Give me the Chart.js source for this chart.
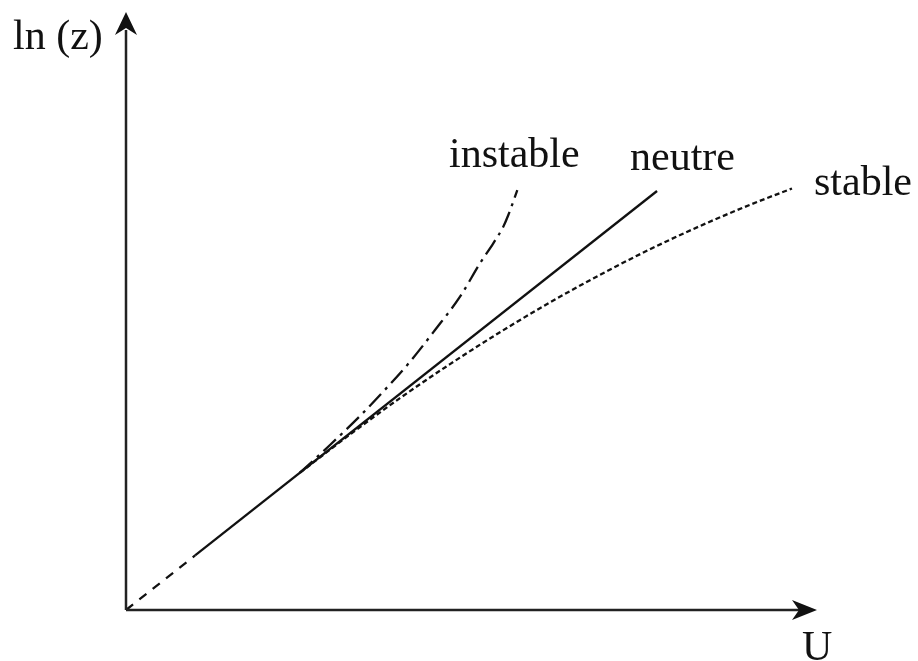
<!DOCTYPE html>
<html>
<head>
<meta charset="utf-8">
<script src="https://cdn.jsdelivr.net/npm/chart.js@4/dist/chart.umd.min.js"></script>
<style>
html, body { margin:0; padding:0; background:#fff; }
#holder { width:918px; height:661px; }
</style>
</head>
<body>
<div id="holder"><canvas id="chart"></canvas></div>
<script>
// axes: U (x) and ln(z) (y), both 0..10
const uRange = [0, 10];
const lnzRange = [0, 10];

// common dashed start near the ground
const startU = [0, 1.0];
const startLnZ = [0, 0.912];

// neutre (straight log profile)
const neutreU = [1.0, 7.685];
const neutreLnZ = [0.912, 7.007];

// instable
const instableU = [2.518, 2.952, 3.386, 3.700, 4.110, 4.472, 4.834, 5.123, 5.315, 5.460, 5.533, 5.663];
const instableLnZ = [2.296, 2.759, 3.244, 3.624, 4.152, 4.682, 5.239, 5.798, 6.132, 6.410, 6.605, 7.023];

// stable
const stableU = [2.518, 3.242, 3.965, 4.689, 5.412, 6.136, 6.860, 7.583, 8.307, 9.030, 9.638];
const stableLnZ = [2.296, 2.936, 3.543, 4.112, 4.645, 5.144, 5.605, 6.032, 6.421, 6.776, 7.048];

// curve labels, anchored in data units (left / baseline)
const labelTexts = ['instable', 'neutre', 'stable'];
const labelU = [4.675, 7.294, 9.957];
const labelLnZ = [7.408, 7.358, 6.940];

function toPoints(xs, ys) {
    return xs.map((x, i) => ({x: x, y: ys[i]}));
}

const ink = '#111';

// axis lines with arrow heads and the text labels
const axesPlugin = {
    id: 'axesArrows',
    afterDatasetsDraw(chart) {
        const ctx = chart.ctx;
        const xs = chart.scales.x, ys = chart.scales.y;
        const x0 = xs.getPixelForValue(uRange[0]);
        const x1 = xs.getPixelForValue(uRange[1]);
        const y0 = ys.getPixelForValue(lnzRange[0]);
        const y1 = ys.getPixelForValue(lnzRange[1]);
        ctx.save();
        ctx.strokeStyle = '#222';
        ctx.fillStyle = '#111';
        ctx.lineWidth = 2.5;
        ctx.beginPath();
        ctx.moveTo(x0, y0);
        ctx.lineTo(x0, y1 + 18);
        ctx.moveTo(x0, y0);
        ctx.lineTo(x1 - 18, y0);
        ctx.stroke();
        // y arrow
        ctx.beginPath();
        ctx.moveTo(x0, y1);
        ctx.lineTo(x0 + 11, y1 + 23);
        ctx.lineTo(x0, y1 + 16);
        ctx.lineTo(x0 - 11, y1 + 23);
        ctx.closePath();
        ctx.fill();
        // x arrow
        ctx.beginPath();
        ctx.moveTo(x1, y0);
        ctx.lineTo(x1 - 25, y0 - 10);
        ctx.lineTo(x1 - 18, y0);
        ctx.lineTo(x1 - 25, y0 + 10);
        ctx.closePath();
        ctx.fill();

        ctx.font = '42px "Liberation Serif", "Times New Roman", serif';
        ctx.textBaseline = 'alphabetic';
        ctx.textAlign = 'left';
        ctx.fillText('ln (z)', 13, 49);
        ctx.fillText('U', 802, 660);
        labelTexts.forEach((t, i) => {
            ctx.fillText(t, xs.getPixelForValue(labelU[i]), ys.getPixelForValue(labelLnZ[i]));
        });
        ctx.restore();
    }
};

function makeChart() {
    const ctx = document.getElementById('chart').getContext('2d');
    const common = {fill:false, pointRadius:0, borderColor:ink, borderWidth:2.3, clip:false, showLine:true};
    new Chart(ctx, {
        type: 'scatter',
        data: {
            datasets: [
                Object.assign({label:'start', data:toPoints(startU, startLnZ), borderDash:[9, 8]}, common),
                Object.assign({label:'neutre', data:toPoints(neutreU, neutreLnZ)}, common),
                Object.assign({label:'instable', data:toPoints(instableU, instableLnZ), cubicInterpolationMode:'monotone', borderDash:[17, 6, 3, 6]}, common),
                Object.assign({label:'stable', data:toPoints(stableU, stableLnZ), cubicInterpolationMode:'monotone', borderDash:[5, 3]}, common)
            ]
        },
        options: {
            responsive: true,
            maintainAspectRatio: false,
            animation: false,
            layout: {padding: {left:126, right:101, top:12, bottom:51}},
            plugins: {legend:{display:false}, tooltip:{enabled:false}},
            scales: {
                x: {type:'linear', min:uRange[0], max:uRange[1], display:false},
                y: {type:'linear', min:lnzRange[0], max:lnzRange[1], display:false}
            }
        },
        plugins: [axesPlugin]
    });
}

makeChart();
</script>
</body>
</html>
